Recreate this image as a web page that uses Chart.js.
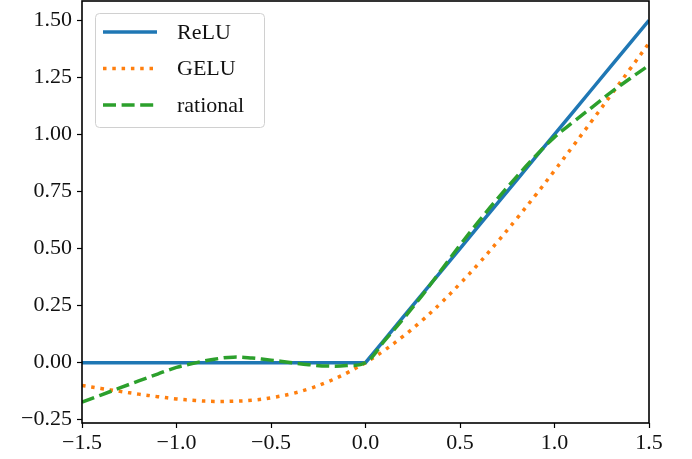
<!DOCTYPE html>
<html>
<head>
<meta charset="utf-8">
<script src="https://cdn.jsdelivr.net/npm/chart.js@4.4.1/dist/chart.umd.min.js"></script>
<style>
  html, body { margin: 0; padding: 0; background: #fff; }
  #wrap { width: 692px; height: 459px; }
</style>
</head>
<body>
<div id="wrap"><canvas id="act"></canvas></div>
<script>
// sample points on x
const xs = [-1.5, -1.4, -1.3, -1.2, -1.1, -1.0, -0.9, -0.8, -0.7, -0.6, -0.5,
            -0.4, -0.3, -0.2, -0.1, 0.0, 0.1, 0.2, 0.3, 0.4, 0.5,
            0.6, 0.7, 0.8, 0.9, 1.0, 1.1, 1.2, 1.3, 1.4, 1.5];

const relu = [0, 0, 0, 0, 0, 0, 0, 0, 0, 0, 0,
              0, 0, 0, 0, 0, 0.1, 0.2, 0.3, 0.4, 0.5,
              0.6, 0.7, 0.8, 0.9, 1.0, 1.1, 1.2, 1.3, 1.4, 1.5];

const gelu = [-0.100, -0.113, -0.126, -0.138, -0.149, -0.159, -0.166, -0.170, -0.169, -0.165, -0.154,
              -0.138, -0.115, -0.084, -0.046, 0.000, 0.054, 0.116, 0.185, 0.262, 0.346,
              0.435, 0.531, 0.631, 0.734, 0.841, 0.951, 1.062, 1.174, 1.287, 1.400];

const rational = [-0.173, -0.142, -0.111, -0.080, -0.050, -0.021, -0.001, 0.015, 0.024, 0.020, 0.011,
                  0.001, -0.009, -0.015, -0.013, 0.000, 0.095, 0.192, 0.295, 0.405, 0.515,
                  0.620, 0.720, 0.815, 0.905, 0.988, 1.055, 1.120, 1.185, 1.245, 1.303];

const xTicks = [-1.5, -1.0, -0.5, 0.0, 0.5, 1.0, 1.5];
const yTicks = [-0.25, 0.00, 0.25, 0.50, 0.75, 1.00, 1.25, 1.50];

const FONT = '"Liberation Serif", "DejaVu Serif", serif';
const FSIZE = 22;

function pts(ys) {
  return xs.map((x, i) => ({ x: x, y: ys[i] }));
}
function fmt(v, d) {
  const s = Math.abs(v).toFixed(d);
  return v < -1e-9 ? "\u2212" + s : s;
}

// frame on all four sides
const frame = {
  id: "frame",
  afterDatasetsDraw(chart) {
    const a = chart.chartArea, c = chart.ctx;
    c.save();
    c.strokeStyle = "#000";
    c.lineWidth = 1.6;
    c.strokeRect(a.left, a.top, a.right - a.left, a.bottom - a.top);
    c.restore();
  }
};

// legend box in the upper left corner
const box = {
  id: "box",
  afterDraw(chart) {
    const c = chart.ctx;
    const x = 95, y = 13, w = 169, h = 114, r = 4;
    c.save();
    c.beginPath();
    c.roundRect(x + 0.5, y + 0.5, w, h, r);
    c.fillStyle = "rgba(255,255,255,0.8)";
    c.fill();
    c.strokeStyle = "#d0d0d0";
    c.lineWidth = 1;
    c.stroke();
    chart.data.datasets.forEach((ds, i) => {
      const ry = 32 + i * 36.5;
      c.beginPath();
      c.setLineDash(ds.borderDash || []);
      c.lineCap = "butt";
      c.strokeStyle = ds.borderColor;
      c.lineWidth = ds.borderWidth;
      c.moveTo(103, ry);
      c.lineTo(157, ry);
      c.stroke();
      c.setLineDash([]);
      c.fillStyle = "#111";
      c.font = FSIZE + "px " + FONT;
      c.textBaseline = "middle";
      c.fillText(ds.label, 177, ry + 1);
    });
    c.restore();
  }
};

new Chart(document.getElementById("act"), {
  type: "line",
  data: {
    datasets: [
      { label: "ReLU", data: pts(relu), borderColor: "#1f77b4", borderWidth: 3.5,
        tension: 0, order: 3 },
      { label: "GELU", data: pts(gelu), borderColor: "#ff7f0e", borderWidth: 3.5,
        borderDash: [3.5, 5.8], tension: 0.4, order: 2 },
      { label: "rational", data: pts(rational), borderColor: "#2ca02c", borderWidth: 3.5,
        borderDash: [13, 5.6], tension: 0.4, order: 1 }
    ]
  },
  options: {
    responsive: true,
    maintainAspectRatio: false,
    animation: false,
    elements: { point: { radius: 0 }, line: { borderCapStyle: "butt", fill: false } },
    layout: { padding: { top: 1, right: 43, left: 0, bottom: 0 } },
    plugins: { legend: { display: false }, tooltip: { enabled: false } },
    scales: {
      x: {
        type: "linear",
        min: -1.5,
        max: 1.5,
        afterBuildTicks: s => { s.ticks = xTicks.map(v => ({ value: v })); },
        afterFit: s => { s.height = 36; s.paddingLeft = 0; s.paddingRight = 0; },
        border: { display: false },
        grid: { drawOnChartArea: false, drawTicks: true, tickLength: 5, tickColor: "#000", tickWidth: 1.2 },
        ticks: {
          color: "#111", padding: 2, maxRotation: 0,
          font: { family: FONT, size: FSIZE },
          callback: v => fmt(v, 1)
        }
      },
      y: {
        type: "linear",
        min: -0.2645,
        max: 1.5845,
        afterBuildTicks: s => { s.ticks = yTicks.map(v => ({ value: v })); },
        afterFit: s => { s.width = 82; s.paddingTop = 0; s.paddingBottom = 0; },
        border: { display: false },
        grid: { drawOnChartArea: false, drawTicks: true, tickLength: 5, tickColor: "#000", tickWidth: 1.2 },
        ticks: {
          color: "#111", padding: 5,
          font: { family: FONT, size: FSIZE },
          callback: v => fmt(v, 2)
        }
      }
    }
  },
  plugins: [frame, box]
});
</script>
</body>
</html>
